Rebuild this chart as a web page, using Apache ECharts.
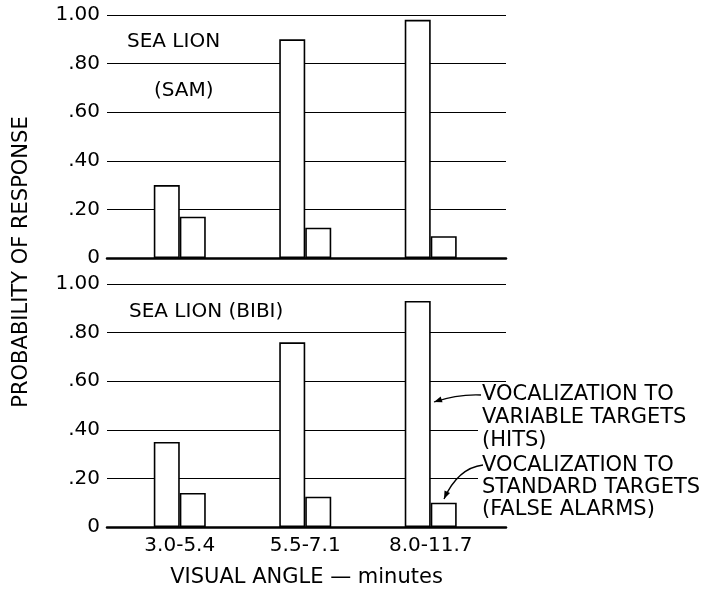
<!DOCTYPE html>
<html>
<head>
<meta charset="utf-8">
<script src="https://cdn.jsdelivr.net/npm/echarts@6/dist/echarts.min.js"></script>
<style>
  html, body { margin: 0; padding: 0; background: #fff; }
  #chart { width: 713px; height: 595px; }
</style>
</head>
<body>
<div id="chart"></div>
<script>
// data
var categories = ['3.0-5.4', '5.5-7.1', '8.0-11.7'];
var positions = [1, 2, 3];
var samHits = [0.30, 0.90, 0.98];
var samFalseAlarms = [0.17, 0.125, 0.09];
var bibiHits = [0.35, 0.76, 0.93];
var bibiFalseAlarms = [0.14, 0.125, 0.10];
var yTickLabels = ['0', '.20', '.40', '.60', '.80', '1.00'];

var FONT = 'DejaVu Sans';

var toPoints = function (values) {
  return values.map(function (v, i) { return [positions[i], v]; });
};

var makeXAxis = function (idx, withLabels) {
  return {
    type: 'value',
    gridIndex: idx,
    min: 0.42,
    max: 3.6,
    axisLine: { show: true, onZero: false, lineStyle: { color: '#000', width: 2.5 } },
    axisTick: { show: false },
    splitLine: { show: false },
    name: withLabels ? 'VISUAL ANGLE \u2014 minutes' : '',
    nameLocation: 'middle',
    nameGap: 40,
    nameTextStyle: { color: '#000', fontFamily: FONT, fontSize: 21 },
    axisLabel: {
      show: withLabels,
      customValues: positions,
      margin: 9,
      color: '#000',
      fontFamily: FONT,
      fontSize: 20,
      formatter: function (v) {
        var i = positions.indexOf(v);
        return i < 0 ? '' : categories[i];
      }
    }
  };
};

var makeYAxis = function (idx) {
  return {
    type: 'value',
    gridIndex: idx,
    min: 0,
    max: 1,
    interval: 0.2,
    axisLine: { show: false },
    axisTick: { show: false },
    splitLine: { show: true, lineStyle: { color: '#000', width: 1.2 } },
    axisLabel: {
      margin: 7,
      color: '#000',
      fontFamily: FONT,
      fontSize: 20,
      formatter: function (v) { return yTickLabels[Math.round(v / 0.2)]; }
    }
  };
};

var barStyle = { color: '#fff', borderColor: '#000', borderWidth: 1.6 };

var makeBar = function (name, values, idx) {
  return {
    name: name,
    type: 'bar',
    xAxisIndex: idx,
    yAxisIndex: idx,
    data: toPoints(values),
    barWidth: 26,
    barGap: '0%',
    itemStyle: barStyle,
    silent: true
  };
};

// arrow helper: curve plus a filled head at the end point
var arrow = function (x1, y1, cx, cy, x2, y2) {
  var dx = x2 - cx, dy = y2 - cy;
  var len = Math.sqrt(dx * dx + dy * dy);
  dx /= len; dy /= len;
  var bx = x2 - dx * 8, by = y2 - dy * 8;
  var px = -dy * 3, py = dx * 3;
  return [
    {
      type: 'bezierCurve', z: 100,
      shape: { x1: x1, y1: y1, x2: x2, y2: y2, cpx1: cx, cpy1: cy },
      style: { stroke: '#000', lineWidth: 1.3, fill: null }
    },
    {
      type: 'polygon', z: 100,
      shape: { points: [[x2, y2], [bx + px, by + py], [bx - px, by - py]] },
      style: { fill: '#000' }
    }
  ];
};

var label = function (text, x, y, size, extra) {
  var el = {
    type: 'text', z: 100, x: x, y: y,
    style: {
      text: text, fill: '#000', font: size + 'px ' + FONT,
      align: 'left', verticalAlign: 'middle',
      textAlign: 'left', textVerticalAlign: 'middle'
    }
  };
  if (extra) {
    for (var k in extra) el.style[k] = extra[k];
  }
  return el;
};

var graphics = [
  {
    type: 'text', z: 100, x: 22, y: 262, rotation: Math.PI / 2,
    style: {
      text: 'PROBABILITY OF RESPONSE', fill: '#000', font: '21px ' + FONT,
      align: 'center', verticalAlign: 'middle',
      textAlign: 'center', textVerticalAlign: 'middle'
    }
  },
  label('SEA LION', 127, 42, 20),
  label('(SAM)', 154, 91, 20),
  label('SEA LION (BIBI)', 129, 312, 20),
  label('VOCALIZATION TO\nVARIABLE TARGETS\n(HITS)', 478, 418, 21,
    { lineHeight: 23, backgroundColor: '#fff', padding: [0, 0, 0, 4] }),
  label('VOCALIZATION TO\nSTANDARD TARGETS\n(FALSE ALARMS)', 478, 488, 21,
    { lineHeight: 22, backgroundColor: '#fff', padding: [0, 0, 0, 4] })
].concat(arrow(481, 395, 458, 394, 434, 402))
 .concat(arrow(483, 465, 458, 468, 444, 499));

var chart = echarts.init(document.getElementById('chart'));
chart.setOption({
  animation: false,
  backgroundColor: '#fff',
  grid: [
    { left: 107, right: 207, top: 15, height: 243 },
    { left: 107, right: 207, top: 284, height: 243 }
  ],
  xAxis: [makeXAxis(0, false), makeXAxis(1, true)],
  yAxis: [makeYAxis(0), makeYAxis(1)],
  series: [
    makeBar('SAM hits', samHits, 0),
    makeBar('SAM false alarms', samFalseAlarms, 0),
    makeBar('BIBI hits', bibiHits, 1),
    makeBar('BIBI false alarms', bibiFalseAlarms, 1)
  ],
  graphic: graphics
});
</script>
</body>
</html>
